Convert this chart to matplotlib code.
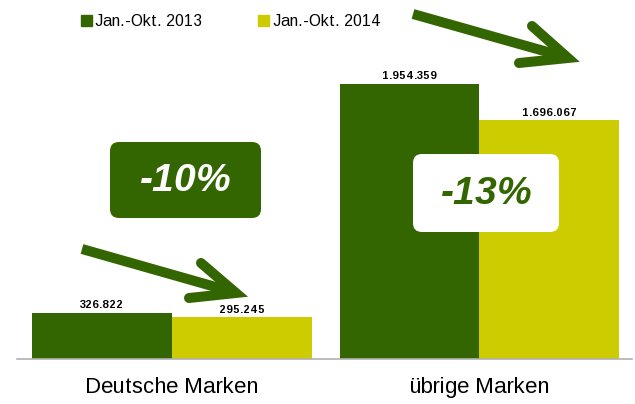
import numpy as np
import matplotlib
matplotlib.use("Agg")
import matplotlib.pyplot as plt
from matplotlib.patches import Patch, FancyBboxPatch
from matplotlib.lines import Line2D
from matplotlib.transforms import Affine2D

plt.rcParams['font.family'] = ['Liberation Sans', 'DejaVu Sans']
plt.rcParams['text.hinting_factor'] = 1

categories = ['Deutsche Marken', 'übrige Marken']
series = ['Jan.-Okt. 2013', 'Jan.-Okt. 2014']
values_2013 = [326822, 1954359]
values_2014 = [295245, 1696067]
labels_2013 = ['326.822', '1.954.359']
labels_2014 = ['295.245', '1.696.067']
changes = ['-10%', '-13%']

dark = '#336600'
yellow = '#cccc00'

W, H = 635, 404
fig = plt.figure(figsize=(W / 100, H / 100), dpi=100)
# pixel coordinates measured from the top-left corner
pix = Affine2D().scale(1 / 100, -1 / 100).translate(0, H / 100) + fig.dpi_scale_trans

ax = fig.add_axes([17 / W, (H - 359) / H, (632 - 17) / W, 359 / H])
x = np.arange(len(categories))
w = 0.455
b1 = ax.bar(x - w / 2, values_2013, w, color=dark, label=series[0])
b2 = ax.bar(x + w / 2, values_2014, w, color=yellow, label=series[1])
ax.bar_label(b1, labels=labels_2013, padding=2, fontsize=7.8, fontweight='bold')
ax.bar_label(b2, labels=labels_2014, padding=2, fontsize=7.8, fontweight='bold')

ax.set_xlim(-0.504, 1.496)
ax.set_ylim(0, 2551300)
for s in ['top', 'right', 'left']:
    ax.spines[s].set_visible(False)
ax.spines['bottom'].set_color('#b0b0b0')
ax.spines['bottom'].set_linewidth(1.2)
ax.set_yticks([])
ax.set_xticks(x)
ax.set_xticklabels(categories, fontsize=16.2)
ax.tick_params(axis='x', length=0, pad=13)

handles = [Patch(color=dark), Patch(color=yellow)]
ax.legend(handles, series, loc='upper left', bbox_to_anchor=(81, 14),
          bbox_transform=pix, ncol=2, frameon=False, fontsize=11.5,
          handlelength=0.7, handleheight=0.7, handletextpad=0.2,
          columnspacing=3.5, borderpad=0, borderaxespad=0)


def arrow(tail, tip, barb1, barb2):
    lw = 7.2
    fig.add_artist(Line2D([tail[0], tip[0] - 8], [tail[1], tip[1] - 2.5], transform=pix,
                          color=dark, lw=lw, solid_capstyle='butt'))
    fig.add_artist(Line2D([barb1[0], tip[0], barb2[0]], [barb1[1], tip[1], barb2[1]],
                          transform=pix, color=dark, lw=lw, solid_capstyle='round',
                          solid_joinstyle='miter'))


arrow((82, 249), (236, 293), (201, 263), (189, 298))
arrow((413, 14), (568, 58), (532, 26), (519, 63))

box1 = FancyBboxPatch((110, 142), 151, 76, boxstyle='round,pad=0,rounding_size=9',
                      transform=pix, facecolor=dark, edgecolor='none')
fig.add_artist(box1)
fig.text(186, 181, changes[0], transform=pix, ha='center', va='center', color='white',
         fontsize=28, fontweight='bold', fontstyle='italic')

box2 = FancyBboxPatch((413, 154), 146, 78, boxstyle='round,pad=0,rounding_size=9',
                      transform=pix, facecolor='white', edgecolor='none')
fig.add_artist(box2)
fig.text(487, 194, changes[1], transform=pix, ha='center', va='center', color=dark,
         fontsize=28, fontweight='bold', fontstyle='italic')

fig.savefig('out.png', dpi=100)
